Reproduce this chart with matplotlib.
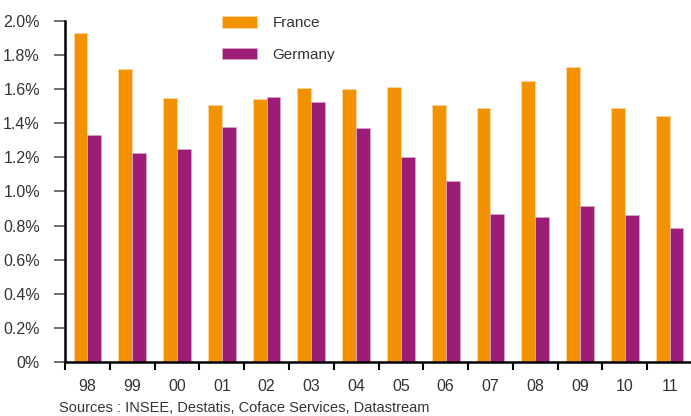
import numpy as np
import matplotlib.pyplot as plt
from matplotlib.ticker import FuncFormatter, MultipleLocator, FixedLocator

plt.rcParams['font.family'] = ['Liberation Sans', 'DejaVu Sans']

years = ['98', '99', '00', '01', '02', '03', '04', '05', '06', '07', '08', '09', '10', '11']
france = [1.93, 1.72, 1.55, 1.505, 1.54, 1.605, 1.60, 1.615, 1.505, 1.49, 1.65, 1.73, 1.49, 1.44]
germany = [1.33, 1.225, 1.25, 1.38, 1.555, 1.525, 1.375, 1.205, 1.06, 0.87, 0.85, 0.915, 0.86, 0.785]

orange = '#F39200'
purple = '#9B1D78'

fig = plt.figure(figsize=(6.91, 4.16), dpi=100)
ax = fig.add_axes([65 / 691, 54 / 416, 627 / 691, 341 / 416])

x = np.arange(len(years))
w = 0.31
ax.bar(x - w / 2, france, w, color=orange, edgecolor='#fbd9a8', linewidth=0.5, label='France')
ax.bar(x + w / 2, germany, w, color=purple, edgecolor='#d9a8cc', linewidth=0.5, label='Germany')

ax.set_xlim(-0.5, len(years) - 0.5)
ax.set_ylim(0, 2.0)
ax.yaxis.set_major_locator(MultipleLocator(0.2))
ax.yaxis.set_major_formatter(FuncFormatter(lambda v, p: '0%' if abs(v) < 1e-9 else f'{v:.1f}%'))

ax.set_xticks(x)
ax.set_xticklabels(years)
ax.xaxis.set_minor_locator(FixedLocator(np.arange(-0.5, len(years), 1.0)))
ax.tick_params(axis='x', which='major', length=0, pad=12, labelsize=11.5, colors='#333333')
ax.tick_params(axis='x', which='minor', length=6, width=1.5, direction='out', color='black')
ax.tick_params(axis='y', length=8, width=1.2, pad=10, labelsize=11.5, colors='#333333')
ax.tick_params(axis='y', color='#555555')

for s in ['top', 'right']:
    ax.spines[s].set_visible(False)
for s in ['left', 'bottom']:
    ax.spines[s].set_linewidth(1.8)
    ax.spines[s].set_color('black')

leg = ax.legend(loc='upper left', bbox_to_anchor=(222 / 691, 1 - 16 / 416),
                bbox_transform=fig.transFigure, frameon=False, fontsize=11,
                handlelength=2.3, handleheight=0.8, labelspacing=1.15,
                handletextpad=1.0, borderpad=0, borderaxespad=0)
for t in leg.get_texts():
    t.set_color('#333333')

fig.text(59 / 691, 1 - 408 / 416, 'Sources : INSEE, Destatis, Coface Services, Datastream',
         fontsize=10.5, color='#333333', va='center', ha='left')

fig.savefig('out.png', dpi=100)
